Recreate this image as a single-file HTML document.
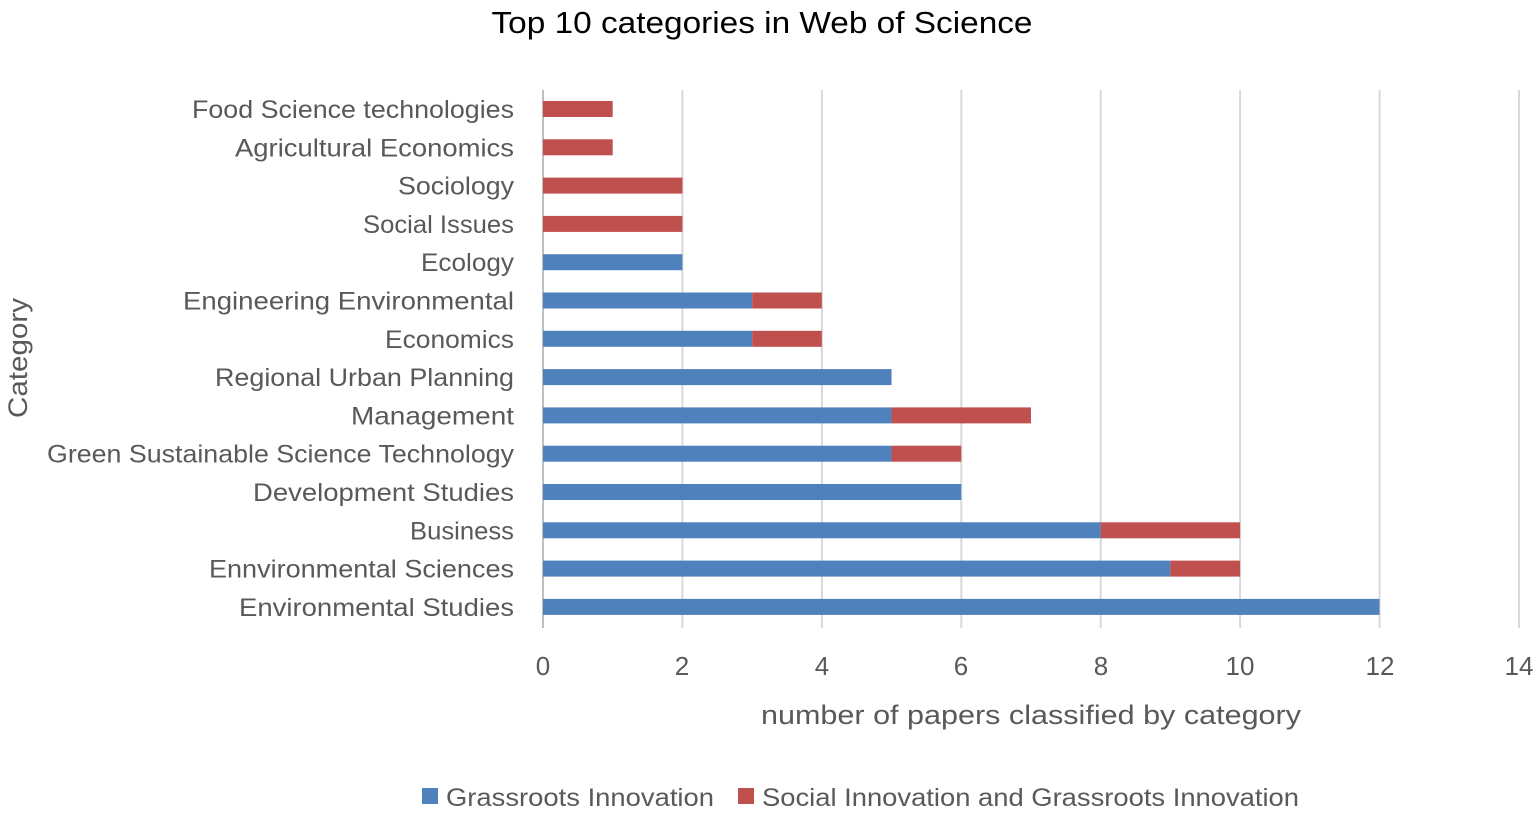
<!DOCTYPE html>
<html><head><meta charset="utf-8"><style>html,body{margin:0;padding:0;background:#fff}</style></head>
<body>
<svg width="1535" height="816" xmlns="http://www.w3.org/2000/svg" font-family="Liberation Sans, sans-serif">
<rect width="1535" height="816" fill="#fff"/>
<text x="762" y="33" font-size="31" text-anchor="middle" fill="#000" textLength="541" lengthAdjust="spacingAndGlyphs">Top 10 categories in Web of Science</text>
<g stroke="#d9d9d9" stroke-width="2">
<line x1="543" y1="90" x2="543" y2="628" stroke="#bfbfbf"/>
<line x1="682.4" y1="90" x2="682.4" y2="628"/>
<line x1="821.9" y1="90" x2="821.9" y2="628"/>
<line x1="961.3" y1="90" x2="961.3" y2="628"/>
<line x1="1100.7" y1="90" x2="1100.7" y2="628"/>
<line x1="1240.1" y1="90" x2="1240.1" y2="628"/>
<line x1="1379.6" y1="90" x2="1379.6" y2="628"/>
<line x1="1519" y1="90" x2="1519" y2="628"/>
</g>
<g font-size="26" fill="#595959" text-anchor="middle">
<text x="543" y="675">0</text><text x="682" y="675">2</text><text x="822" y="675">4</text><text x="961" y="675">6</text><text x="1101" y="675">8</text><text x="1240" y="675">10</text><text x="1380" y="675">12</text><text x="1519" y="675">14</text>
</g>
<text x="1031" y="724" font-size="27" text-anchor="middle" fill="#595959" textLength="540" lengthAdjust="spacingAndGlyphs">number of papers classified by category</text>
<text transform="translate(27,358) rotate(-90)" font-size="27" text-anchor="middle" fill="#595959" textLength="120" lengthAdjust="spacingAndGlyphs">Category</text>
<g font-size="25" fill="#595959" text-anchor="end" id="labels"></g>
<g id="bars"></g>
<rect x="422" y="788" width="16" height="16" fill="#4f81bd"/>
<text x="446" y="806" font-size="25" fill="#595959" textLength="268" lengthAdjust="spacingAndGlyphs">Grassroots Innovation</text>
<rect x="738" y="788" width="16" height="16" fill="#c0504d"/>
<text x="762" y="806" font-size="25" fill="#595959" textLength="537" lengthAdjust="spacingAndGlyphs">Social Innovation and Grassroots Innovation</text>
<script>
var d=[["Food Science technologies",0,1,322],["Agricultural Economics",0,1,279],["Sociology",0,2,116],["Social Issues",0,2,151],["Ecology",2,0,93],["Engineering Environmental",3,1,331],["Economics",3,1,129],["Regional Urban Planning",5,0,299],["Management",5,2,163],["Green Sustainable Science Technology",5,1,467],["Development Studies",6,0,261],["Business",8,2,104],["Ennvironmental Sciences",9,1,305],["Environmental Studies",12,0,275]];
var ns="http://www.w3.org/2000/svg",L=document.getElementById("labels"),B=document.getElementById("bars"),u=69.71;
d.forEach(function(r,i){var y=109+i*38.3;
var t=document.createElementNS(ns,"text");t.setAttribute("x",514);t.setAttribute("y",y+9);t.setAttribute("textLength",r[3]);t.setAttribute("lengthAdjust","spacingAndGlyphs");t.textContent=r[0];L.appendChild(t);
function bar(x,w,c){var e=document.createElementNS(ns,"rect");e.setAttribute("x",x);e.setAttribute("y",y-8);e.setAttribute("width",w);e.setAttribute("height",16);e.setAttribute("fill",c);B.appendChild(e);}
if(r[1])bar(543,r[1]*u,"#4f81bd");if(r[2])bar(543+r[1]*u,r[2]*u,"#c0504d");});
</script>
</svg>
</body></html>
